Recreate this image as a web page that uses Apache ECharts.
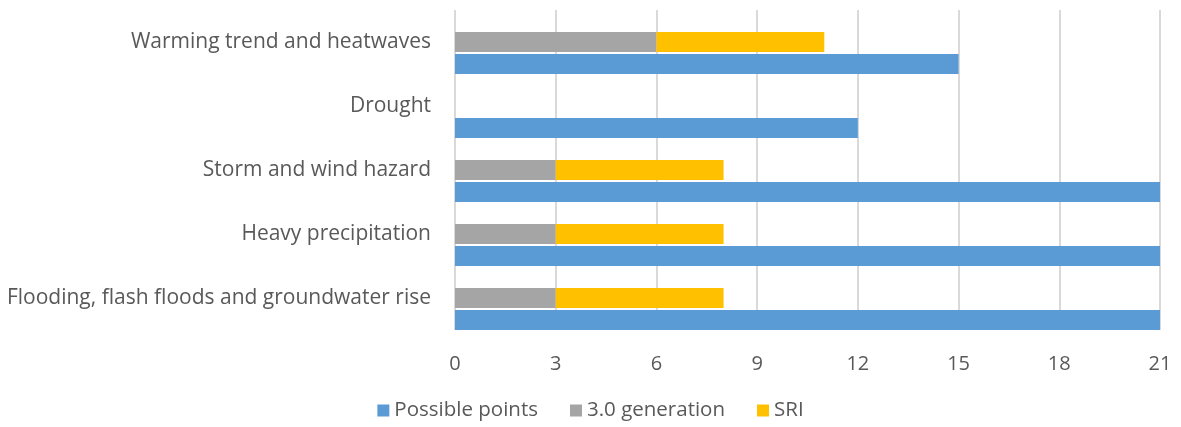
<!DOCTYPE html>
<html>
<head>
<meta charset="utf-8">
<script src="https://cdn.jsdelivr.net/npm/echarts@6/dist/echarts.min.js"></script>
<style>
  html, body { margin: 0; padding: 0; background: #fff; }
  #chart { width: 1181px; height: 427px; }
</style>
</head>
<body>
<div id="chart"></div>
<script>
const categories = [
  'Warming trend and heatwaves',
  'Drought',
  'Storm and wind hazard',
  'Heavy precipitation',
  'Flooding, flash floods and groundwater rise'
];
const possiblePoints = [15, 12, 21, 21, 21];
const generation30 = [6, null, 3, 3, 3];
const sri = [5, null, 5, 5, 5];
const spacer = [null, null, null, null, null];

const font = '"Open Sans", sans-serif';
const chart = echarts.init(document.getElementById('chart'));

chart.setOption({
  animation: false,
  grid: { left: 455, right: 21, top: 10, bottom: 97, containLabel: false },
  legend: {
    data: ['Possible points', '3.0 generation', 'SRI'],
    bottom: 1,
    left: 'center',
    icon: 'rect',
    itemWidth: 12,
    itemHeight: 12,
    itemGap: 32,
    textStyle: { fontFamily: font, fontSize: 20.5, color: '#595959' }
  },
  xAxis: {
    type: 'value',
    min: 0,
    max: 21,
    interval: 3,
    axisLine: { show: false },
    axisTick: { show: false },
    axisLabel: { fontFamily: font, fontSize: 20, color: '#595959', margin: 24 },
    splitLine: { lineStyle: { color: '#D9D9D9', width: 2 } }
  },
  yAxis: {
    type: 'category',
    data: categories,
    inverse: true,
    axisLine: { show: false },
    axisTick: { show: false },
    axisLabel: { fontFamily: font, fontSize: 21, color: '#595959', margin: 24 }
  },
  series: [
    {
      name: 'spacer', type: 'bar', data: spacer, stack: 'sp',
      barWidth: 20, barGap: '10%', barCategoryGap: 0,
      itemStyle: { color: 'transparent' }, silent: true
    },
    { name: '3.0 generation', type: 'bar', stack: 'g', data: generation30, barWidth: 20, itemStyle: { color: '#A5A5A5' } },
    { name: 'SRI', type: 'bar', stack: 'g', data: sri, barWidth: 20, itemStyle: { color: '#FFC000' } },
    { name: 'Possible points', type: 'bar', data: possiblePoints, barWidth: 20, itemStyle: { color: '#5B9BD5' } }
  ]
});
</script>
</body>
</html>
